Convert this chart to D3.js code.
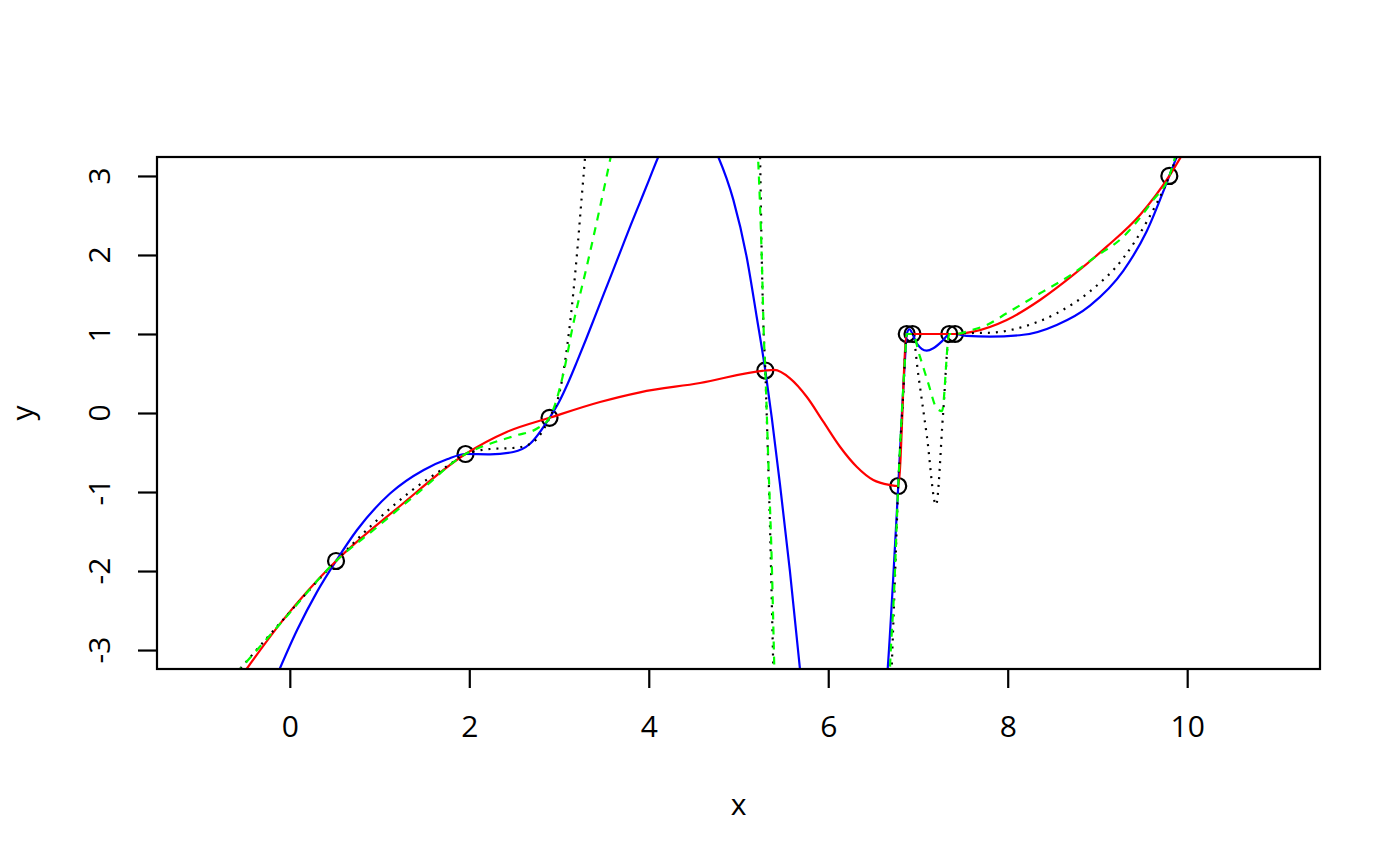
<!DOCTYPE html>
<html><head><meta charset="utf-8">
<script src="https://cdn.jsdelivr.net/npm/d3@7"></script>
<style>body{margin:0;background:#fff} svg{display:block}</style>
</head><body><svg id="c" width="1400" height="866"></svg>
<script>
// observed data points
const pointsX = [0.515, 1.958, 2.894, 5.299, 6.780, 6.875, 6.939, 7.349, 7.413, 9.801];
const pointsY = [-1.873, -0.519, -0.061, 0.538, -0.924, 1.0, 1.0, 1.0, 1.0, 3.0];

// blue solid curve
const blueX = [-0.14, 0.08, 0.30, 0.515, 0.749, 1.120, 1.492, 1.752, 1.958, 2.231, 2.491, 2.677, 2.894, 3.0, 3.1, 3.2, 3.3, 3.4, 3.5, 3.6, 3.7, 3.8, 3.9, 4.0, 4.106, 4.25, 4.45, 4.62, 4.775, 4.942, 5.091, 5.203, 5.299, 5.370, 5.462, 5.573, 5.685, 5.75, 6.2, 6.60, 6.663, 6.725, 6.780, 6.855, 6.875, 6.905, 6.939, 6.986, 7.097, 7.171, 7.282, 7.349, 7.413, 7.543, 7.802, 8.174, 8.546, 8.917, 9.288, 9.549, 9.801, 9.92];
const blueY = [-3.31, -2.75, -2.27, -1.873, -1.481, -1.016, -0.721, -0.586, -0.519, -0.523, -0.494, -0.389, -0.061, 0.14, 0.38, 0.65, 0.93, 1.22, 1.51, 1.80, 2.09, 2.38, 2.66, 2.94, 3.24, 3.55, 3.72, 3.58, 3.24, 2.70, 1.974, 1.215, 0.538, -0.051, -0.90, -2.0, -3.24, -4.0, -6.0, -4.0, -3.231, -2.072, -0.924, 0.671, 1.0, 1.06, 1.0, 0.882, 0.789, 0.819, 0.924, 1.0, 1.0, 0.975, 0.966, 0.99, 1.115, 1.36, 1.80, 2.30, 3.0, 3.35];

// red solid curve
const redX = [-0.52, -0.09, 0.515, 1.228, 1.958, 2.417, 2.894, 3.457, 3.902, 4.571, 5.299, 5.40, 5.574, 5.760, 5.945, 6.131, 6.317, 6.502, 6.688, 6.780, 6.875, 6.939, 7.349, 7.413, 7.616, 7.989, 8.360, 8.731, 9.103, 9.474, 9.801, 9.96];
const redY = [-3.30, -2.641, -1.873, -1.177, -0.519, -0.240, -0.061, 0.139, 0.262, 0.380, 0.538, 0.545, 0.439, 0.206, -0.110, -0.427, -0.680, -0.848, -0.911, -0.924, 1.0, 1.0, 1.0, 1.0, 1.029, 1.177, 1.430, 1.747, 2.105, 2.506, 3.0, 3.30];

// black dotted curve
const blackX = [-0.61, -0.07, 0.515, 0.935, 1.343, 1.789, 1.958, 2.231, 2.528, 2.713, 2.894, 3.011, 3.122, 3.197, 3.253, 3.290, 3.31, 3.40, 4.3, 5.18, 5.228, 5.240, 5.259, 5.277, 5.299, 5.314, 5.351, 5.388, 5.40, 5.5, 6.6, 6.69, 6.707, 6.744, 6.780, 6.836, 6.875, 6.939, 7.004, 7.10, 7.201, 7.28, 7.349, 7.413, 7.472, 7.806, 8.174, 8.546, 8.917, 9.288, 9.549, 9.801, 9.90];
const blackY = [-3.31, -2.61, -1.873, -1.396, -0.996, -0.645, -0.519, -0.456, -0.439, -0.367, -0.061, 0.287, 1.130, 1.974, 2.734, 3.240, 3.55, 4.3, 5.5, 4.3, 3.6, 3.240, 1.974, 1.130, 0.538, -0.009, -1.439, -3.231, -3.8, -4.6, -4.6, -3.75, -3.231, -2.072, -0.924, 0.249, 1.0, 1.0, 0.48, -0.30, -1.164, -0.01, 1.0, 1.0, 1.009, 1.016, 1.092, 1.262, 1.54, 1.96, 2.42, 3.0, 3.30];

// green dashed curve
const greenX = [-0.60, -0.07, 0.515, 0.95, 1.45, 1.958, 2.231, 2.528, 2.751, 2.894, 3.048, 3.159, 3.308, 3.457, 3.568, 3.63, 3.75, 4.4, 5.05, 5.20, 5.221, 5.259, 5.284, 5.299, 5.314, 5.332, 5.370, 5.399, 5.41, 5.5, 6.6, 6.67, 6.688, 6.733, 6.780, 6.855, 6.875, 6.939, 7.022, 7.115, 7.209, 7.268, 7.349, 7.413, 7.60, 7.766, 7.989, 8.360, 8.731, 8.954, 9.288, 9.622, 9.801, 9.88];
const greenY = [-3.30, -2.62, -1.873, -1.465, -0.99, -0.519, -0.389, -0.282, -0.199, -0.061, 0.497, 1.130, 1.848, 2.607, 3.198, 3.55, 4.2, 5.0, 4.2, 3.6, 3.155, 1.974, 0.924, 0.538, 0.034, -0.595, -1.861, -3.231, -3.75, -4.6, -4.6, -3.8, -3.231, -2.282, -0.924, 0.671, 1.0, 1.0, 0.713, 0.376, 0.059, 0.025, 1.0, 1.0, 1.05, 1.114, 1.262, 1.515, 1.768, 1.958, 2.231, 2.696, 3.0, 3.30];

const xTicks = [0, 2, 4, 6, 8, 10];
const yTicks = [-3, -2, -1, 0, 1, 2, 3];
const xLabel = "x", yLabel = "y";

const W = 1400, H = 866, L = 157, R = 1320, T = 157, B = 669;
const FONT = "'Open Sans', 'Noto Sans', sans-serif";
const FS = 30;
const LW = 2.2;
const fmt = d => String(d);
const x = d3.scaleLinear().domain([-1.48, 11.48]).range([L, R]);
const y = d3.scaleLinear().domain([-3.24, 3.24]).range([B, T]);
const svg = d3.select('#c');
svg.append('rect').attr('width', W).attr('height', H).attr('fill', '#fff');
svg.append('defs').append('clipPath').attr('id', 'clip')
  .append('rect').attr('x', L).attr('y', T).attr('width', R - L).attr('height', B - T);

const g = svg.append('g').attr('clip-path', 'url(#clip)');

// points (drawn first, lines on top)
g.selectAll('circle').data(d3.zip(pointsX, pointsY)).join('circle')
  .attr('cx', d => x(d[0])).attr('cy', d => y(d[1])).attr('r', 8)
  .attr('fill', 'none').attr('stroke', '#000').attr('stroke-width', LW);

const line = d3.line().x(d => x(d[0])).y(d => y(d[1])).curve(d3.curveMonotoneX);
function draw(xs, ys, color, dash) {
  g.append('path').datum(d3.zip(xs, ys)).attr('d', line)
    .attr('fill', 'none').attr('stroke', color).attr('stroke-width', LW)
    .attr('stroke-dasharray', dash);
}
draw(blueX, blueY, '#0000FF', null);
draw(redX, redY, '#FF0000', null);
draw(blackX, blackY, '#000000', '2,6');
draw(greenX, greenY, '#00FF00', '8,7');

// box
svg.append('rect').attr('x', L).attr('y', T).attr('width', R - L).attr('height', B - T)
  .attr('fill', 'none').attr('stroke', '#000').attr('stroke-width', LW);

// x axis
const xa = svg.append('g').attr('transform', `translate(0,${B})`)
  .call(d3.axisBottom(x).tickValues(xTicks).tickSize(19).tickPadding(28).tickSizeOuter(0).tickFormat(fmt));
xa.select('.domain').remove();
xa.selectAll('line').attr('stroke', '#000').attr('stroke-width', LW);
xa.selectAll('text').attr('font-family', FONT).attr('font-size', FS).attr('fill', '#000');

// y axis
const ya = svg.append('g').attr('transform', `translate(${L},0)`)
  .call(d3.axisLeft(y).tickValues(yTicks).tickSize(19).tickSizeOuter(0).tickFormat(fmt));
ya.select('.domain').remove();
ya.selectAll('line').attr('stroke', '#000').attr('stroke-width', LW);
ya.selectAll('text').remove();
svg.append('g').selectAll('text').data(yTicks).join('text')
  .attr('transform', d => `translate(${L - 58},${y(d)}) rotate(-90)`)
  .attr('dy', '0.35em').attr('text-anchor', 'middle')
  .attr('font-family', FONT).attr('font-size', FS).attr('fill', '#000')
  .text(fmt);

// titles
svg.append('text').attr('x', (L + R) / 2).attr('y', 804).attr('dy', '0.35em')
  .attr('text-anchor', 'middle').attr('font-family', FONT).attr('font-size', FS).text(xLabel);
svg.append('text').attr('transform', `translate(${L - 58 - 77},${(T + B) / 2}) rotate(-90)`)
  .attr('dy', '0.35em').attr('text-anchor', 'middle').attr('font-family', FONT).attr('font-size', FS).text(yLabel);
</script></body></html>
